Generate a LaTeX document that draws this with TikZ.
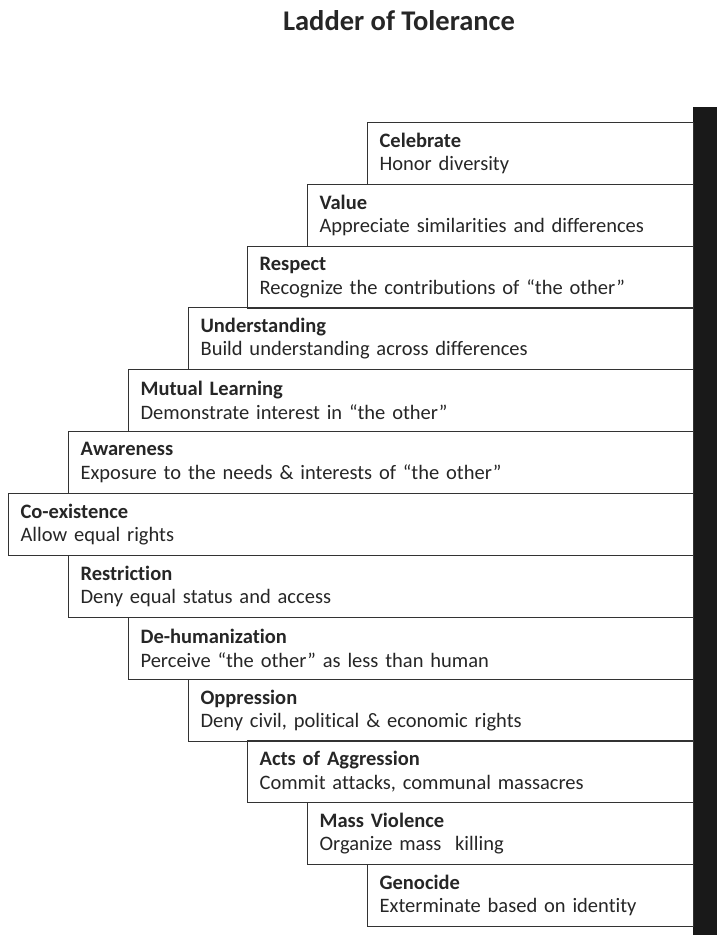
\documentclass[tikz,border=0pt]{standalone}
\usepackage{fontspec}
\setmainfont{Carlito}[Ligatures=CommonOff]

\tikzset{
  stufe/.style={draw=black!80, line width=1.2pt, anchor=north west, rectangle,
    minimum height=62pt, inner xsep=12pt, inner ysep=0pt, align=left,
    text=black!85, font=\fontsize{20.5}{23.5}\selectfont},
  stitel/.style={font=\bfseries}
}

\begin{document}
\begin{tikzpicture}[x=1pt,y=-1pt]
	\useasboundingbox (0,0) rectangle (717,935);
	
	% Ueberschrift
	\node[text=black!85, font=\fontsize{28.5}{32}\selectfont\bfseries] (titel) at (399,21) {Ladder of Tolerance};
	
	% schwarzer Balken rechts
	\fill[black!90] (693,107) rectangle (717,935);
	
	% Stufen oben
	\node[stufe, text width=302pt] (celebrate) at (367,122) {\textbf{Celebrate}\\Honor diversity};
	\node[stufe, text width=362pt] (value) at (307,184) {\textbf{Value}\\Appreciate similarities and differences};
	\node[stufe, text width=422pt] (respect) at (247,246) {\textbf{Respect}\\Recognize the contributions of ``the other''};
	\node[stufe, text width=481pt] (understanding) at (188,307) {\textbf{Understanding}\\Build understanding across differences};
	\node[stufe, text width=541pt] (mutual) at (128,369) {\textbf{Mutual Learning}\\Demonstrate interest in ``the other''};
	\node[stufe, text width=601pt] (awareness) at (68,431) {\textbf{Awareness}\\Exposure to the needs \& interests of ``the other''};
	
	% Mitte
	\node[stufe, text width=661pt] (coexistence) at (8,493) {\textbf{Co-existence}\\Allow equal rights};
	
	% Stufen unten
	\node[stufe, text width=601pt] (restriction) at (68,555) {\textbf{Restriction}\\Deny equal status and access};
	\node[stufe, text width=541pt] (dehumanization) at (128,617) {\textbf{De-humanization}\\Perceive ``the other'' as less than human};
	\node[stufe, text width=481pt] (oppression) at (188,679) {\textbf{Oppression}\\Deny civil, political \& economic rights};
	\node[stufe, text width=422pt] (aggression) at (247,740) {\textbf{Acts of Aggression}\\Commit attacks, communal massacres};
	\node[stufe, text width=362pt] (violence) at (307,802) {\textbf{Mass Violence}\\Organize mass\ \ killing};
	\node[stufe, text width=302pt] (genocide) at (367,864) {\textbf{Genocide}\\Exterminate based on identity};
\end{tikzpicture}
\end{document}
